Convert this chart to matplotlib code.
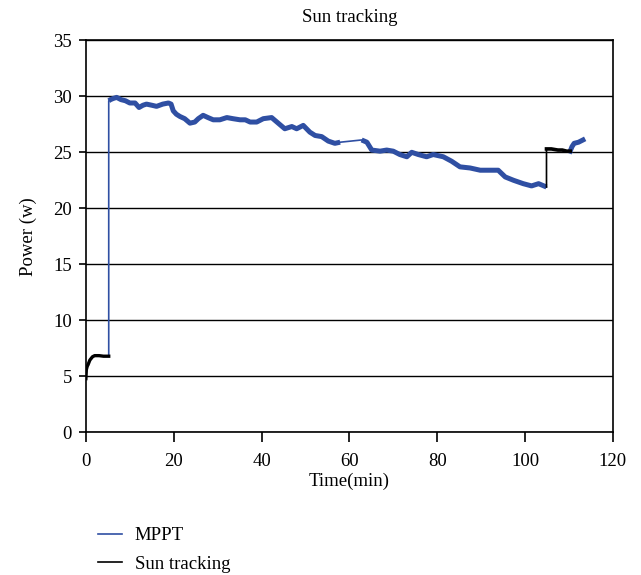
import numpy as np
import matplotlib.pyplot as plt

plt.rcParams['font.family'] = ['Liberation Serif', 'DejaVu Serif']

# MPPT power trace (min, W)
mppt_t = [5.2, 5.2, 5.6, 6.2, 7.0, 8.0, 9.0, 10.0, 11.2, 12.1,
          13.0, 13.8, 15.0, 16.1, 17.5, 18.8, 19.4, 19.9, 20.6, 21.4,
          22.5, 23.7, 24.8, 25.6, 26.7, 27.8, 29.0, 30.5, 32.1, 33.5,
          35.1, 36.3, 37.4, 38.9, 40.4, 42.3, 43.8, 45.3, 46.9, 48.0,
          49.5, 51.0, 52.2, 53.7, 55.2, 56.7, 57.9, 62.8, 64.0, 65.1,
          67.0, 68.5, 70.0, 71.5, 73.1, 74.2, 75.7, 77.6, 79.1, 81.4,
          83.3, 85.2, 87.5, 89.8, 92.0, 93.9, 95.5, 97.4, 99.6, 101.5,
          103.1, 104.9]
mppt_p = [6.8, 29.6, 29.7, 29.8, 29.9, 29.7, 29.6, 29.4, 29.4, 29.0,
          29.2, 29.3, 29.2, 29.1, 29.3, 29.4, 29.3, 28.7, 28.4, 28.2,
          28.0, 27.6, 27.7, 28.0, 28.3, 28.1, 27.9, 27.9, 28.1, 28.0,
          27.9, 27.9, 27.7, 27.7, 28.0, 28.1, 27.6, 27.1, 27.3, 27.1,
          27.4, 26.8, 26.5, 26.4, 26.0, 25.8, 25.9, 26.1, 25.9, 25.2,
          25.1, 25.2, 25.1, 24.8, 24.6, 25.0, 24.8, 24.6, 24.8, 24.6,
          24.2, 23.7, 23.6, 23.4, 23.4, 23.4, 22.8, 22.5, 22.2, 22.0,
          22.2, 21.9]
mppt_end_t = [110.3, 110.7, 111.2, 112.2, 113.2]
mppt_end_p = [25.1, 25.5, 25.8, 25.9, 26.1]

# sun tracking power trace
sun_t = [0.0, 0.1, 0.3, 0.5, 0.9, 1.5, 2.0, 3.0, 4.0, 5.2]
sun_p = [4.8, 5.6, 5.9, 6.05, 6.45, 6.75, 6.85, 6.85, 6.8, 6.8]
sun2_t = [104.9, 104.9, 106.0, 107.5, 108.5, 109.5, 110.3]
sun2_p = [21.9, 25.3, 25.3, 25.2, 25.2, 25.1, 25.1]

blue = '#2f4fa3'


def steady(t, p):
    # break the line at jumps and gaps so only the measured stretches get the wide stroke
    t = np.asarray(t, float)
    p = np.asarray(p, float)
    jump = (np.abs(np.diff(p)) > 2) | (np.diff(t) > 3)
    idx = np.where(jump)[0] + 1
    return np.insert(t, idx, np.nan), np.insert(p, idx, np.nan)


fig = plt.figure(figsize=(6.41, 5.75), dpi=100)
ax = fig.add_axes([0.134, 0.248, 0.822, 0.682])

ax.plot(mppt_t, mppt_p, color=blue, lw=1.2, label='MPPT')
ax.plot(*steady(mppt_t, mppt_p), color=blue, lw=3.6, solid_capstyle='butt')
ax.plot(mppt_end_t, mppt_end_p, color=blue, lw=3.6)
ax.plot(sun_t, sun_p, color='black', lw=1.2, label='Sun tracking')
ax.plot(*steady(sun_t, sun_p), color='black', lw=2.4)
ax.plot(sun2_t, sun2_p, color='black', lw=1.2)
ax.plot(*steady(sun2_t, sun2_p), color='black', lw=2.6)

ax.set_xlim(0, 120)
ax.set_ylim(0, 35)
ax.set_xticks(np.arange(0, 121, 20))
ax.set_yticks(np.arange(0, 36, 5))
ax.yaxis.grid(True, color='black', lw=1.0)
ax.set_axisbelow(True)
for s in ax.spines.values():
    s.set_linewidth(1.2)
    s.set_color('black')
ax.tick_params(direction='out', width=1.2, labelsize=13.5)
ax.tick_params(axis='x', length=7, pad=8)
ax.tick_params(axis='y', length=5, pad=5)

ax.set_title('Sun tracking', fontsize=13.5, pad=13)
ax.set_xlabel('Time(min)', fontsize=13.5, labelpad=2)
ax.set_ylabel('Power (w)', fontsize=13.5, labelpad=12)

fig.legend(loc='upper left', bbox_to_anchor=(0.153, 0.083), frameon=False,
           fontsize=13.5, handlelength=1.3, handletextpad=0.65,
           labelspacing=0.6, borderpad=0, borderaxespad=0)

fig.savefig('out.png', dpi=100)
